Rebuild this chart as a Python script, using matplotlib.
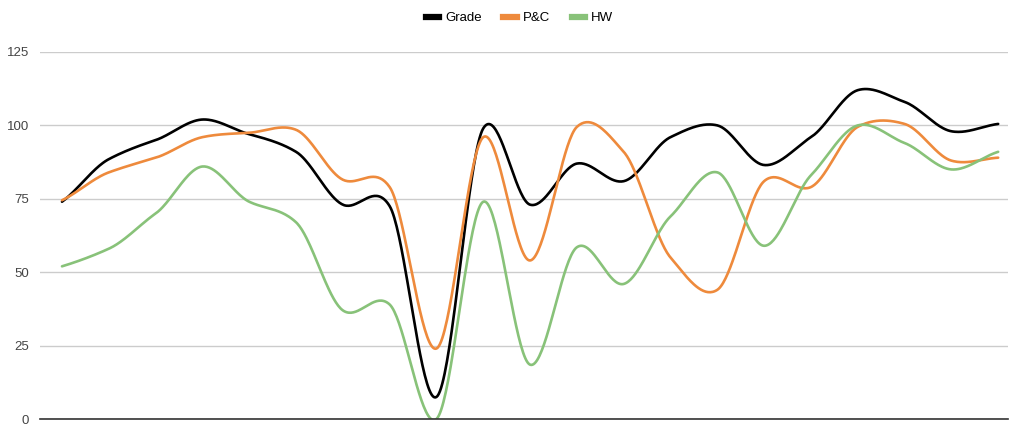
import numpy as np
import matplotlib.pyplot as plt
from matplotlib.lines import Line2D

plt.rcParams['font.family'] = ['Liberation Sans', 'DejaVu Sans']

series_names = ['Grade', 'P&C', 'HW']
colors = ['#000000', '#ee8a3c', '#88c279']

grade = [74, 88.5, 95, 102, 97, 91, 73, 72.5, 7.5, 99, 73, 87, 81, 96, 100, 86.5, 96, 112, 108, 98, 100.5]
pc = [74.5, 84, 89, 96, 97.5, 98.5, 81.5, 79, 24, 96, 54, 99.5, 91, 55, 44, 81, 79, 99.5, 100.5, 88, 89]
hw = [52, 58, 70, 86, 74, 67, 37, 39, 0, 74, 18.5, 58.5, 46, 69, 84, 59, 83, 100, 94, 85, 91]
yticks = [0, 25, 50, 75, 100, 125]


def smooth(y, n=40, k=0.8):
    # cardinal spline through every point
    y = np.asarray(y, dtype=float)
    m = np.gradient(y) * k
    xs, ys = [], []
    t = np.linspace(0, 1, n, endpoint=False)
    h00 = 2 * t**3 - 3 * t**2 + 1
    h10 = t**3 - 2 * t**2 + t
    h01 = -2 * t**3 + 3 * t**2
    h11 = t**3 - t**2
    for i in range(len(y) - 1):
        xs.append(i + t)
        ys.append(h00 * y[i] + h10 * m[i] + h01 * y[i + 1] + h11 * m[i + 1])
    xs.append([len(y) - 1])
    ys.append([y[-1]])
    return np.concatenate(xs), np.concatenate(ys)


fig = plt.figure(figsize=(10.11, 4.26), dpi=100)
ax = fig.add_axes([40 / 1011, 7 / 426, 968 / 1011, 367 / 426])

for name, vals, c in zip(series_names, [grade, pc, hw], colors):
    sx, sy = smooth(vals)
    ax.plot(sx, sy, color=c, lw=1.9, label=name, solid_capstyle='round')

ax.set_xlim(-0.47, 20.21)
ax.set_ylim(0, 125)
ax.set_yticks(yticks)
ax.set_xticks([])
ax.grid(axis='y', color='#cccccc', lw=1)
ax.set_axisbelow(True)
ax.tick_params(axis='y', length=0, pad=8, labelsize=9.5, labelcolor='#444444')
for s in ['top', 'right', 'left']:
    ax.spines[s].set_visible(False)
ax.spines['bottom'].set_color('#333333')
ax.spines['bottom'].set_linewidth(1.2)

handles = [Line2D([0], [0], color=c, lw=4.5) for c in colors]
fig.legend(handles, series_names, loc='center', bbox_to_anchor=(0.514, 0.957), ncol=3,
           frameon=False, fontsize=9.5, handlelength=1.0, handletextpad=0.5,
           columnspacing=1.6)

fig.savefig('out.png', dpi=100)
